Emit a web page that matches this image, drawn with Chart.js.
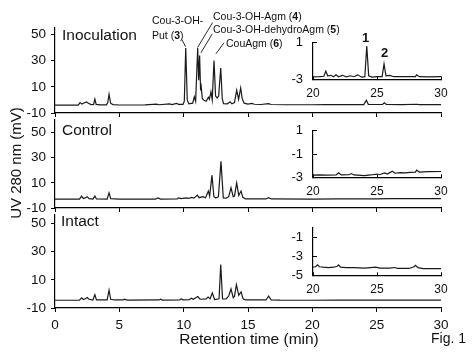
<!DOCTYPE html>
<html><head><meta charset="utf-8">
<script src="https://cdn.jsdelivr.net/npm/chart.js@4/dist/chart.umd.min.js"></script>
<style>
html,body{margin:0;padding:0;background:#fff;}
#wrap{position:relative;width:474px;height:355px;overflow:hidden;font-family:Arial,"Liberation Sans",sans-serif;color:#111;}
canvas{position:absolute;left:0;top:0;}
.t{position:absolute;white-space:nowrap;line-height:1;}
.ann{font-size:10.5px;}
.ttl{font-size:15.5px;}
</style></head><body>
<div id="wrap">
<canvas id="m1" width="474" height="355"></canvas>
<canvas id="m2" width="474" height="355"></canvas>
<canvas id="m3" width="474" height="355"></canvas>
<canvas id="i1" width="474" height="355"></canvas>
<canvas id="i2" width="474" height="355"></canvas>
<canvas id="i3" width="474" height="355"></canvas>

<div class="t ttl" style="left:62px;top:27px;">Inoculation</div>
<div class="t ttl" style="left:62px;top:122px;">Control</div>
<div class="t ttl" style="left:61px;top:213px;">Intact</div>

<div class="t ann" style="left:152px;top:15px;">Cou-3-OH-</div>
<div class="t ann" style="left:152px;top:30px;">Put (<b>3</b>)</div>
<div class="t ann" style="left:213px;top:11px;">Cou-3-OH-Agm (<b>4</b>)</div>
<div class="t ann" style="left:213px;top:24px;">Cou-3-OH-dehydroAgm (<b>5</b>)</div>
<div class="t ann" style="left:226px;top:38px;">CouAgm (<b>6</b>)</div>

<div class="t" style="left:362px;top:31px;font-size:13px;font-weight:bold;">1</div>
<div class="t" style="left:381px;top:46px;font-size:13px;font-weight:bold;">2</div>

<div class="t" style="left:249px;top:331px;font-size:15.5px;transform:translateX(-50%);">Retention time (min)</div>
<div class="t" style="left:431px;top:331px;font-size:14px;">Fig. 1</div>
<div class="t" style="left:15px;top:163px;font-size:15px;transform:translate(-50%,-50%) rotate(-90deg);">UV 280 nm (mV)</div>
</div>
<script>
// ---- data (retention time in min, UV 280 nm in mV) ----
const xTicksMain = [0, 5, 10, 15, 20, 25, 30];
const yTicksMain = [-10, 10, 30, 50];
const xTicksInset = [20, 25, 30];
const yTicksInsetA = [1, -1, -3];
const yTicksInsetB = [-1, -3, -5];

const inoculation = [[0,-4],[1.8,-4],[1.95,-2],[2.1,-3.2],[2.3,-2.2],[2.45,-1.5],[2.6,-2.5],[2.8,-3.6],[3.0,-3.5],[3.1,0.6],[3.2,-3.4],[3.5,-3.8],[4.0,-3.8],[4.1,-2],[4.2,4.4],[4.32,-2.5],[4.5,-3.6],[5.0,-3.9],[6.0,-3.9],[7.0,-3.8],[7.9,-3.2],[8.1,-3.7],[8.9,-3.0],[9.1,-3.6],[9.45,-2.6],[9.6,-3.4],[9.95,-3.4],[10.05,-1],[10.16,39.6],[10.28,0],[10.4,-3],[10.7,-2.5],[10.83,2.4],[10.93,-1],[11.09,39.6],[11.17,15],[11.24,34],[11.31,9],[11.36,10.7],[11.45,1],[11.6,-0.5],[11.75,-1],[11.92,2],[12.0,0.5],[12.12,6.2],[12.22,0],[12.36,30.2],[12.48,3],[12.6,1.5],[12.72,3],[12.88,24.4],[13.0,1],[13.1,-2.8],[13.4,-3],[13.6,-1.5],[13.75,-3],[13.95,-2],[14.12,7.5],[14.27,0.5],[14.43,9.2],[14.55,1],[14.7,-2.5],[15.0,-3.2],[15.3,-2.6],[15.5,-3.3],[16.0,-3.5],[16.6,-2.8],[16.8,-3.5],[18,-3.7],[20,-3.7],[21,-3.6],[23,-3.6],[24.0,-3.6],[24.2,-0.2],[24.35,-3.4],[25.45,-3.5],[25.6,-2.2],[25.75,-3.5],[27,-3.6],[28.1,-3.3],[28.3,-3.6],[30,-3.6]];
const inoculationZoom = [[20,-2.72],[20.5,-2.7],[20.85,-2.65],[21.0,-2.1],[21.15,-2.6],[21.4,-2.55],[21.6,-2.7],[21.8,-2.5],[22.0,-2.7],[22.3,-2.55],[22.6,-2.72],[22.9,-2.6],[23.2,-2.7],[23.5,-2.5],[23.8,-2.75],[24.05,-2.7],[24.2,0.6],[24.35,-2.6],[24.6,-2.75],[25.0,-2.7],[25.4,-2.7],[25.55,-1.33],[25.7,-2.6],[26.0,-2.55],[26.3,-2.7],[27,-2.7],[28.0,-2.7],[28.1,-2.5],[28.3,-2.7],[29,-2.72],[30,-2.7]];

const control = [[0,-3],[1.9,-3],[2.07,-0.5],[2.2,-2.5],[2.35,-2],[2.5,-1],[2.65,-2.5],[2.95,-2.9],[3.1,-0.5],[3.22,-2.8],[4.05,-2.9],[4.2,2.1],[4.33,-2.6],[5,-3],[7.8,-3],[8.0,-2],[8.2,-2.9],[9.5,-2.8],[9.6,-2],[9.8,-2.5],[10.2,-2],[10.4,-2.4],[10.6,-1.6],[10.8,-2.2],[11.06,0.3],[11.2,-1.8],[11.5,-1],[11.7,-1.8],[11.92,3.5],[12.02,-0.5],[12.2,16.1],[12.35,-1],[12.5,-2],[12.7,-1],[12.9,27.1],[13.08,-2],[13.3,-2.2],[13.5,-1],[13.68,6.1],[13.85,-1],[13.95,-0.5],[14.12,10],[14.28,0],[14.46,3.5],[14.6,-1.5],[14.8,-2.7],[16.4,-2.8],[16.6,-1.8],[16.8,-2.8],[20,-2.9],[22,-2.7],[25,-2.8],[26,-2.5],[28,-2.5],[30,-2.6]];
const controlZoom = [[20,-2.82],[20.5,-2.8],[21,-2.82],[21.8,-2.8],[22.0,-2.62],[22.2,-2.8],[22.8,-2.78],[23.0,-2.68],[23.2,-2.8],[24,-2.85],[24.5,-2.8],[25,-2.72],[25.2,-2.78],[25.4,-2.7],[25.6,-2.62],[25.8,-2.72],[26.0,-2.6],[26.2,-2.48],[26.4,-2.65],[26.8,-2.6],[27.2,-2.62],[27.6,-2.58],[28.0,-2.55],[28.1,-2.38],[28.3,-2.55],[29,-2.52],[30,-2.5]];

const intact = [[0,-4.5],[1.9,-4.5],[2.07,-2.8],[2.2,-4],[2.35,-3.4],[2.5,-2.6],[2.65,-3.8],[2.95,-4.3],[3.1,-0.5],[3.22,-4.2],[4.05,-4.3],[4.2,2.6],[4.33,-3.8],[4.6,-4.3],[5.3,-4.3],[5.4,-3.8],[5.6,-4.4],[8.1,-4.3],[8.2,-3.8],[8.35,-4.4],[9.7,-4.2],[9.8,-3.5],[9.95,-4.2],[10.45,-4],[10.6,-3.0],[10.75,-3.8],[11.1,-1.9],[11.25,-3.5],[11.4,-3.8],[11.75,-3.5],[11.9,-2.3],[12.05,-3.5],[12.23,0.7],[12.4,-4],[12.75,-3.5],[12.88,20.8],[13.02,-3.5],[13.3,-3.6],[13.5,-1.5],[13.68,3.5],[13.85,-2.6],[13.95,-1.8],[14.1,6.6],[14.28,-1],[14.46,1.4],[14.62,-3.5],[14.8,-4.3],[16.4,-4.3],[16.6,-1.6],[16.8,-4.2],[17.5,-4.4],[20,-4.5],[22,-4.4],[25,-4.4],[28,-4.35],[30,-4.4]];
const intactZoom = [[20,-4.15],[20.2,-4.1],[20.35,-3.9],[20.5,-4.1],[20.8,-4.15],[21.2,-4.2],[21.6,-4.15],[21.9,-4.05],[22.0,-3.9],[22.15,-4.15],[22.6,-4.2],[23.2,-4.2],[24,-4.25],[24.5,-4.2],[24.9,-4.15],[25.2,-4.25],[26,-4.25],[26.4,-4.18],[26.6,-4.28],[27.5,-4.28],[27.9,-4.1],[28.0,-3.95],[28.2,-4.2],[28.6,-4.3],[29.5,-4.3],[30,-4.3]];

// leader lines for the peak labels (time, mV) in the Inoculation panel
const leaderLines = [[[9.84,46.4],[10.15,40.8]],[[12.25,59.2],[11.08,40.1]],[[12.22,50.5],[11.34,36.0]],[[13.13,43.7],[12.51,35.3]]];

// ---- drawing ----
Chart.defaults.font.family = 'Arial, "Liberation Sans", sans-serif';
Chart.defaults.color = '#111';

const toXY = arr => arr.map(p => ({x: p[0], y: p[1]}));
const fixedTicks = vals => s => { s.ticks = vals.map(v => ({value: v})); };
const axisBorder = {display: true, color: '#000', width: 1.2};

function lineDataset(series){
  return {data: toXY(series), borderColor: '#1a1a1a', borderWidth: 1.2, pointRadius: 0, tension: 0, fill: false};
}

const leaderPlugin = {
  id: 'leaders',
  afterDatasetsDraw(chart){
    const {ctx, scales: {x, y}} = chart;
    ctx.save();
    ctx.strokeStyle = '#111';
    ctx.lineWidth = 0.9;
    leaderLines.forEach(([a, b]) => {
      ctx.beginPath();
      ctx.moveTo(x.getPixelForValue(a[0]), y.getPixelForValue(a[1]));
      ctx.lineTo(x.getPixelForValue(b[0]), y.getPixelForValue(b[1]));
      ctx.stroke();
    });
    ctx.restore();
  }
};

function mainChart(id, series, yMax, top, bottom, showX, plugins){
  const xh = showX ? 40 : 10;
  return new Chart(document.getElementById(id), {
    type: 'line',
    data: {datasets: [lineDataset(series)]},
    options: {
      responsive: false, animation: false, devicePixelRatio: 1, events: [],
      layout: {padding: {top: top, left: 0, right: 33, bottom: 355 - bottom - xh}},
      plugins: {legend: {display: false}, tooltip: {enabled: false}},
      scales: {
        x: {type: 'linear', min: 0, max: 30, afterBuildTicks: fixedTicks(xTicksMain), afterFit: s => { s.height = xh; },
            grid: {drawOnChartArea: false, drawTicks: true, tickLength: 4, color: '#000', lineWidth: 1},
            border: axisBorder,
            ticks: {display: showX, padding: 5, font: {size: 13.5}, maxRotation: 0, autoSkip: false}},
        y: {type: 'linear', min: -10, max: yMax, afterBuildTicks: fixedTicks(yTicksMain), afterFit: s => { s.width = 55; },
            grid: {drawOnChartArea: false, drawTicks: true, tickLength: 4, color: '#000', lineWidth: 1},
            border: axisBorder,
            ticks: {padding: 5, font: {size: 13.5}}}
      }
    },
    plugins: plugins || []
  });
}

function insetChart(id, series, yMin, yMax, yTicks, top, bottom){
  const xh = 20;
  return new Chart(document.getElementById(id), {
    type: 'line',
    data: {datasets: [lineDataset(series)]},
    options: {
      responsive: false, animation: false, devicePixelRatio: 1, events: [],
      layout: {padding: {top: top, left: 0, right: 33, bottom: 355 - bottom - xh}},
      plugins: {legend: {display: false}, tooltip: {enabled: false}},
      scales: {
        x: {type: 'linear', min: 20, max: 30, afterBuildTicks: fixedTicks(xTicksInset), afterFit: s => { s.height = xh; },
            grid: {drawOnChartArea: false, drawTicks: true, tickLength: -3, color: '#000', lineWidth: 1},
            border: axisBorder,
            ticks: {padding: 10, font: {size: 12}, maxRotation: 0, autoSkip: false}},
        y: {type: 'linear', min: yMin, max: yMax, afterBuildTicks: fixedTicks(yTicks), afterFit: s => { s.width = 313; },
            grid: {drawOnChartArea: false, drawTicks: true, tickLength: -4, color: '#000', lineWidth: 1},
            border: axisBorder,
            ticks: {padding: 14, font: {size: 13}}}
      }
    }
  });
}

mainChart('m1', inoculation, 55, 28, 113, false, [leaderPlugin]);
mainChart('m2', control, 60, 120, 208, false);
mainChart('m3', intact, 56, 215, 308, true);
insetChart('i1', inoculationZoom, -3, 1, yTicksInsetA, 42.3, 79.5);
insetChart('i2', controlZoom, -3, 1, yTicksInsetA, 130.7, 177.3);
insetChart('i3', intactZoom, -5, 0, yTicksInsetB, 227.7, 275.3);
</script>
</body></html>
